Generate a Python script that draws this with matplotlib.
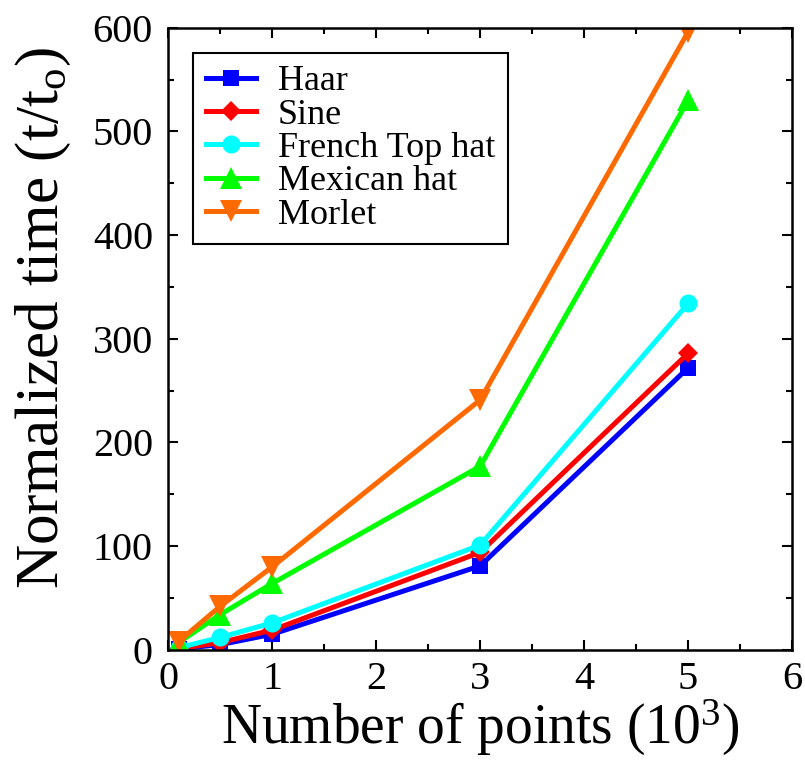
import matplotlib
matplotlib.use('Agg')
import matplotlib.pyplot as plt
from matplotlib.ticker import MultipleLocator

plt.rcParams['font.family'] = ['Liberation Serif', 'DejaVu Serif']
plt.rcParams['mathtext.fontset'] = 'custom'
plt.rcParams['mathtext.rm'] = 'Liberation Serif'
plt.rcParams['mathtext.it'] = 'Liberation Serif:italic'

# number of points, in thousands
n_points = [0.1, 0.5, 1, 3, 5]

haar = [1, 5, 15, 81, 272]
sine = [1, 7, 19, 94, 286]
french_top_hat = [2, 12, 26, 101, 334]
mexican_hat = [7, 34, 64, 177, 530]
morlet = [8, 42, 80, 241, 596]

series = [
  ('Haar', haar, '#0000ff', 's', 11.5),
  ('Sine', sine, '#ff0000', 'D', 10),
  ('French Top hat', french_top_hat, '#00ffff', 'o', 13),
  ('Mexican hat', mexican_hat, '#00ff00', '^', 16),
  ('Morlet', morlet, '#ff6a00', 'v', 16),
]

fig = plt.figure(figsize=(8.05, 7.69), dpi=100)
ax = fig.add_axes([0.209, 0.155, 0.775, 0.809])

for label, y, color, marker, ms in series:
  ax.plot(n_points, y, color=color, marker=marker, lw=3.6, ms=ms,
          markeredgewidth=0, label=label, zorder=2)

ax.set_xlim(0, 6)
ax.set_ylim(0, 600)
ax.xaxis.set_major_locator(MultipleLocator(1))
ax.xaxis.set_minor_locator(MultipleLocator(0.5))
ax.yaxis.set_major_locator(MultipleLocator(100))
ax.yaxis.set_minor_locator(MultipleLocator(50))
ax.tick_params(which='both', direction='in', top=True, right=True, width=1.5)
ax.tick_params(which='major', length=7.5, labelsize=29)
ax.tick_params(which='minor', length=4)
ax.tick_params(axis='x', which='major', pad=8)
ax.tick_params(axis='y', which='major', pad=11)
for s in ax.spines.values():
  s.set_linewidth(1.8)

ax.set_xlabel('Number of points (10$^3$)', fontsize=40, labelpad=0)
ax.set_ylabel(r'Normalized time (t/t$_\mathrm{o}$)', fontsize=44)
ax.yaxis.set_label_coords(-0.152, 0.534)

leg = ax.legend(loc='upper left', bbox_to_anchor=(0.04, 0.96), borderaxespad=0,
                fontsize=26, frameon=True, fancybox=False, edgecolor='black',
                framealpha=1, handlelength=1.4, handletextpad=0.6,
                labelspacing=0.0, borderpad=0.35)
leg.get_frame().set_linewidth(1.5)

fig.savefig('out.png', dpi=100)
